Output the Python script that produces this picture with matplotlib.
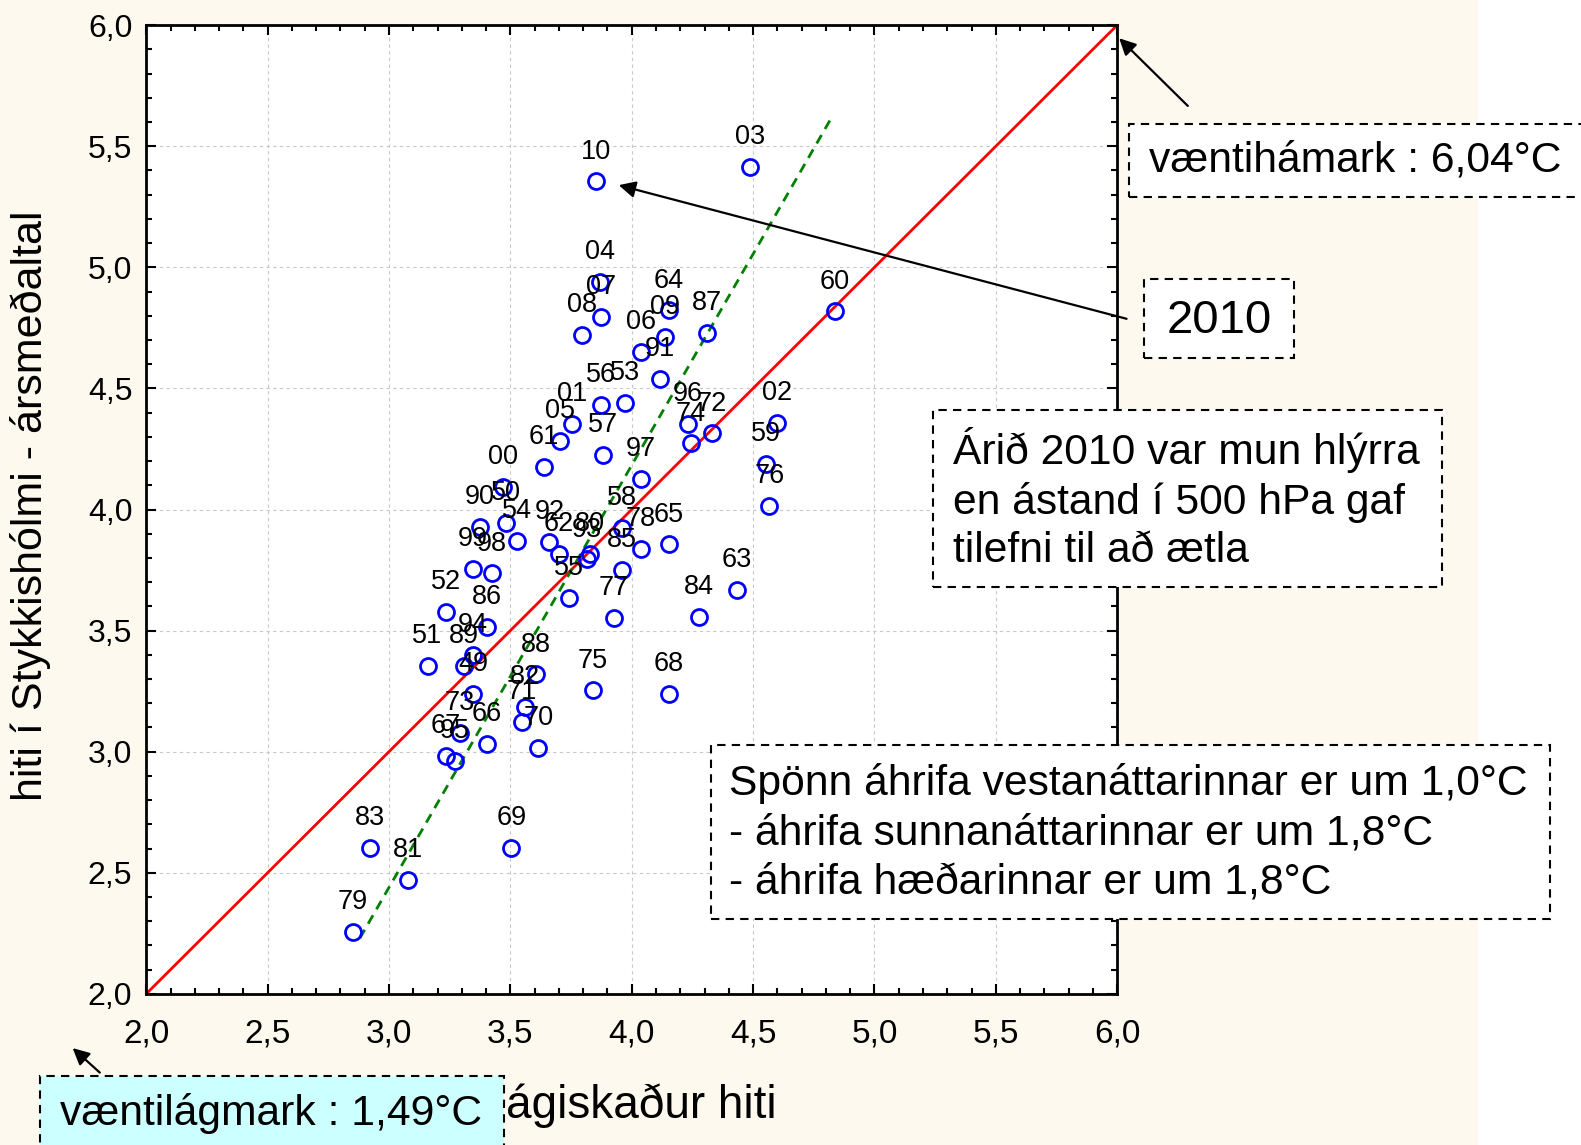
import numpy as np
import matplotlib
matplotlib.use('Agg')
import matplotlib.pyplot as plt
from matplotlib import font_manager
from matplotlib.patches import Rectangle

years = ['10', '03', '04', '07', '08', '64', '09', '06', '91', '87',
         '60', '56', '53', '01', '05', '61', '57', '97', '96', '74',
         '72', '02', '59', '76', '00', '50', '54', '90', '99', '98',
         '52', '86', '94', '89', '49', '51', '73', '67', '95', '66',
         '88', '82', '71', '70', '75', '68', '77', '55', '84', '63',
         '65', '78', '85', '58', '92', '62', '93', '80', '83', '81',
         '79', '69']
est_temp = [3.853, 4.488, 3.869, 3.873, 3.794, 4.152, 4.139, 4.039, 4.118, 4.309,
            4.837, 3.873, 3.973, 3.753, 3.703, 3.637, 3.882, 4.039, 4.231, 4.243,
            4.330, 4.600, 4.555, 4.567, 3.470, 3.483, 3.529, 3.375, 3.346, 3.425,
            3.234, 3.404, 3.346, 3.308, 3.346, 3.159, 3.292, 3.234, 3.271, 3.404,
            3.607, 3.562, 3.549, 3.616, 3.840, 4.152, 3.927, 3.740, 4.276, 4.434,
            4.152, 4.039, 3.961, 3.961, 3.661, 3.699, 3.815, 3.828, 2.922, 3.080,
            2.852, 3.504]
obs_temp = [5.355, 5.413, 4.939, 4.797, 4.722, 4.822, 4.714, 4.651, 4.539, 4.730,
            4.818, 4.431, 4.439, 4.352, 4.285, 4.177, 4.227, 4.127, 4.352, 4.273,
            4.314, 4.356, 4.189, 4.015, 4.094, 3.944, 3.869, 3.927, 3.756, 3.736,
            3.578, 3.515, 3.399, 3.353, 3.240, 3.353, 3.078, 2.982, 2.961, 3.032,
            3.319, 3.186, 3.124, 3.016, 3.253, 3.240, 3.553, 3.636, 3.557, 3.669,
            3.856, 3.836, 3.752, 3.923, 3.865, 3.815, 3.794, 3.815, 2.604, 2.470,
            2.254, 2.604]

# fitted line end points (green dashed)
fit_x = [2.88, 4.83]
fit_y = [2.23, 5.63]
# 1:1 line
diag = [2.0, 6.0]

tick_vals = [2.0, 2.5, 3.0, 3.5, 4.0, 4.5, 5.0, 5.5, 6.0]
tick_labels = ['2,0', '2,5', '3,0', '3,5', '4,0', '4,5', '5,0', '5,5', '6,0']

installed = {f.name for f in font_manager.fontManager.ttflist}
REG = 'Liberation Sans' if 'Liberation Sans' in installed else 'DejaVu Sans'
NAR = 'Liberation Sans Narrow' if 'Liberation Sans Narrow' in installed else REG
plt.rcParams['font.family'] = [REG, 'DejaVu Sans']

W, H = 1568.0, 1136.0
BOXFONT = 30.7


def fpos(px, py):
    """Reference pixel position -> figure fraction."""
    return px / W, 1 - py / H


fig = plt.figure(figsize=(15.81, 11.45), dpi=100, facecolor='white')
# cream background panel (behind the axes)
fig.patches.append(Rectangle((0, 0), 0.935, 1, transform=fig.transFigure,
                             facecolor='#fef9ee', edgecolor='none', zorder=-5))

ax = fig.add_axes([0.0925, 0.132, 0.7066 - 0.0925, 0.978 - 0.132])
ax.set_facecolor('white')

ax.plot(diag, diag, color='red', lw=2, zorder=2)
ax.plot(fit_x, fit_y, color='#008000', lw=2, dashes=(3.5, 2.5), zorder=2)
ax.plot(est_temp, obs_temp, 'o', ms=11.5, mfc='none', mec='blue', mew=2,
        zorder=3, clip_on=False)
for lab, x, y in zip(years, est_temp, obs_temp):
    ax.annotate(lab, (x, y), xytext=(0, 21.5), textcoords='offset points',
                ha='center', va='center', fontsize=19.5, zorder=4)

ax.set_xlim(2.0, 6.0)
ax.set_ylim(2.0, 6.0)
ax.set_xticks(tick_vals)
ax.set_yticks(tick_vals)
ax.set_xticklabels(tick_labels, fontsize=24, family=NAR)
ax.set_yticklabels(tick_labels, fontsize=23)
ax.set_xticks(np.arange(2.0, 6.01, 0.1), minor=True)
ax.set_yticks(np.arange(2.0, 6.01, 0.1), minor=True)
ax.tick_params(which='both', direction='in', top=True, right=True, width=1.5)
ax.tick_params(which='major', length=7)
ax.tick_params(which='minor', length=4)
ax.tick_params(axis='x', which='major', pad=18)
ax.tick_params(axis='y', which='major', pad=10)
ax.grid(True, which='major', color='#c8c8c8', lw=0.8, dashes=(3, 3))
for s in ax.spines.values():
    s.set_linewidth(2)

fig.text(*fpos(30, 502), 'hiti í Stykkishólmi - ársmeðaltal', rotation=90,
         ha='center', va='center', fontsize=31)
fig.text(*fpos(502, 1097), 'ágiskaður hiti', ha='left', va='center',
         fontsize=33, family=NAR)


def dashed_box(x0, y0, x1, y1, fc='white'):
    fx0, fy1 = fpos(x0, y0)
    fx1, fy0 = fpos(x1, y1)
    fig.patches.append(Rectangle((fx0, fy0), fx1 - fx0, fy1 - fy0,
                                 transform=fig.transFigure, facecolor=fc,
                                 edgecolor='black', lw=1.5, linestyle=(0, (4, 3)),
                                 zorder=5))


arrow = dict(arrowstyle='-|>', color='black', lw=1.6, mutation_scale=25)

# upper bound box
dashed_box(1120, 123, 1600, 195)
fig.text(*fpos(1140, 159), 'væntihámark : 6,04°C', ha='left', va='center',
         fontsize=BOXFONT, zorder=6)
ax.annotate('', xy=fpos(1108, 36), xycoords='figure fraction',
            xytext=fpos(1180, 107), textcoords='figure fraction',
            arrowprops=arrow, annotation_clip=False)

# 2010 box
dashed_box(1135, 277, 1283, 355)
fig.text(*fpos(1209, 318), '2010', ha='center', va='center', fontsize=34, zorder=6)
ax.annotate('', xy=fpos(611, 183), xycoords='figure fraction',
            xytext=fpos(1120, 317), textcoords='figure fraction',
            arrowprops=arrow, annotation_clip=False)

# comment box
dashed_box(925, 407, 1430, 582)
fig.text(*fpos(945, 495), 'Árið 2010 var mun hlýrra\nen ástand í 500 hPa gaf\ntilefni til að ætla',
         ha='left', va='center', fontsize=BOXFONT, linespacing=1.27, zorder=6)

# effect box
dashed_box(705, 739, 1537, 912)
fig.text(*fpos(723, 826), 'Spönn áhrifa vestanáttarinnar er um 1,0°C\n'
         '- áhrifa sunnanáttarinnar er um 1,8°C\n- áhrifa hæðarinnar er um 1,8°C',
         ha='left', va='center', fontsize=BOXFONT, linespacing=1.3, zorder=6)

# lower bound box
dashed_box(40, 1068, 500, 1160, fc='#ccffff')
fig.text(*fpos(60, 1105), 'væntilágmark : 1,49°C', ha='left', va='center',
         fontsize=BOXFONT, zorder=6)
ax.annotate('', xy=fpos(70, 1038), xycoords='figure fraction',
            xytext=fpos(101, 1066), textcoords='figure fraction',
            arrowprops=arrow, annotation_clip=False)

fig.savefig('out.png', dpi=100, facecolor=fig.get_facecolor())
